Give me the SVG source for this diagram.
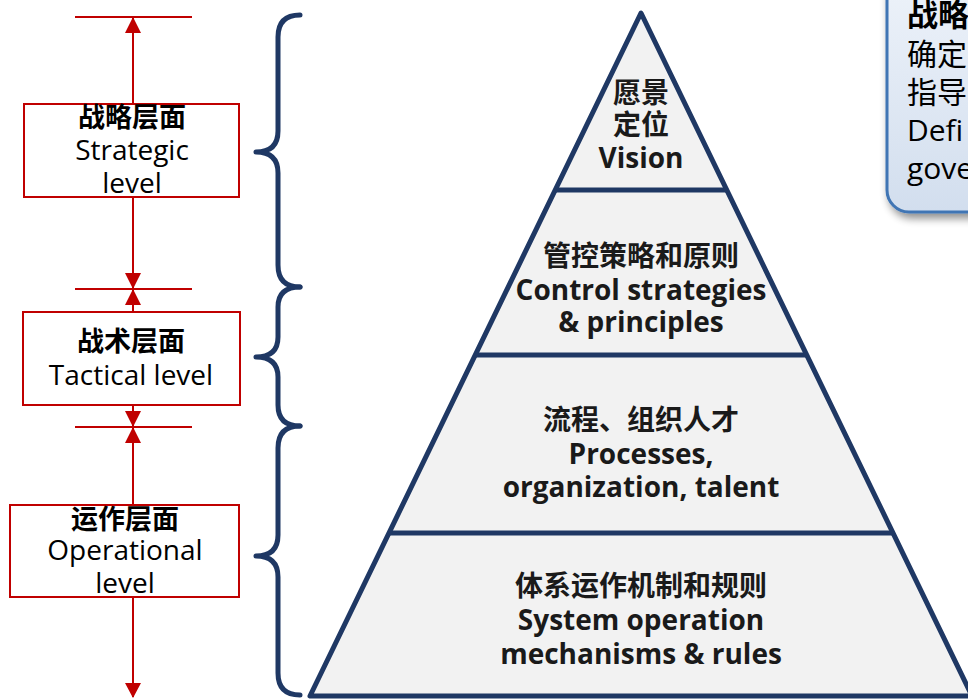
<svg xmlns="http://www.w3.org/2000/svg" width="968" height="699" viewBox="0 0 968 699">
<defs>
<style>
.red{stroke:#c00000;stroke-width:2;fill:none}
.box{stroke:#c00000;stroke-width:2;fill:#ffffff}
.arr{fill:#c00000;stroke:none}
.brace{stroke:#1f3864;stroke-width:5;fill:none;stroke-linecap:round;stroke-linejoin:round}
.pyr{stroke:#1f3864;stroke-width:5;fill:#f2f2f2;stroke-linejoin:round}
.div{stroke:#1f3864;stroke-width:5}
.pt{font-family:"Open Sans","Noto Sans CJK SC",sans-serif;font-weight:bold;font-size:28px;fill:#1a1a1a;text-anchor:middle}
.lb{font-family:"Noto Sans CJK SC",sans-serif;font-weight:bold;font-size:27px;fill:#000;text-anchor:middle}
.lt{font-family:"Open Sans","Noto Sans CJK SC",sans-serif;font-size:28px;fill:#000;text-anchor:middle}
.cb{font-family:"Noto Sans CJK SC",sans-serif;font-weight:bold;font-size:31px;fill:#000}
.ct{font-family:"Open Sans","Noto Sans CJK SC",sans-serif;font-size:30px;fill:#000}
</style>
<linearGradient id="cg" x1="0" y1="0" x2="0" y2="1">
<stop offset="0" stop-color="#eef3fa"/>
<stop offset="1" stop-color="#d2deee"/>
</linearGradient>
<filter id="sh" x="-20%" y="-20%" width="140%" height="140%">
<feGaussianBlur in="SourceAlpha" stdDeviation="4"/>
<feOffset dx="3" dy="5" result="b"/>
<feComponentTransfer><feFuncA type="linear" slope="0.45"/></feComponentTransfer>
<feMerge><feMergeNode/><feMergeNode in="SourceGraphic"/></feMerge>
</filter>
</defs>
<rect width="968" height="699" fill="#ffffff"/>

<g id="connectors">
<line class="red" x1="133" y1="17" x2="133" y2="697"/>
<line class="red" x1="75" y1="17" x2="192" y2="17"/>
<line class="red" x1="75" y1="289" x2="192" y2="289"/>
<line class="red" x1="75" y1="427" x2="192" y2="427"/>
<polygon class="arr" points="133,17 125,33 141,33"/>
<polygon class="arr" points="133,289 125,273 141,273"/>
<polygon class="arr" points="133,289 125,305 141,305"/>
<polygon class="arr" points="133,427 125,411 141,411"/>
<polygon class="arr" points="133,427 125,443 141,443"/>
<polygon class="arr" points="133,698 125,683 141,683"/>
<path class="brace" d="M300,15 Q278,15 278,37 L278,131 Q278,152 256,152 Q278,152 278,173 L278,265 Q278,287 300,287"/>
<path class="brace" d="M300,287 Q278,287 278,307 L278,337 Q278,357 256,357 Q278,357 278,377 L278,405 Q278,426 300,426"/>
<path class="brace" d="M300,426 Q278,426 278,448 L278,535 Q278,556 256,556 Q278,556 278,577 L278,673 Q278,695 300,695"/>
</g>

<g id="strategic-level">
<rect class="box" x="24" y="104" width="215" height="93"/>
<text class="lb" x="132" y="127">战略层面</text>
<text class="lt" x="132" y="160">Strategic</text>
<text class="lt" x="132" y="193">level</text>
</g>
<g id="tactical-level">
<rect class="box" x="23" y="312" width="217" height="93"/>
<text class="lb" x="131" y="351">战术层面</text>
<text class="lt" x="131" y="385">Tactical level</text>
</g>
<g id="operational-level">
<rect class="box" x="10" y="505" width="229" height="92"/>
<text class="lb" x="125" y="529">运作层面</text>
<text class="lt" x="125" y="560">Operational</text>
<text class="lt" x="125" y="593">level</text>
</g>

<g id="pyramid">
<polygon class="pyr" points="641,13 310,696 972,696"/>
<line class="div" x1="555" y1="190" x2="727" y2="190"/>
<line class="div" x1="475" y1="355" x2="807" y2="355"/>
<line class="div" x1="390" y1="533" x2="892" y2="533"/>
</g>
<g id="layer-vision">
<text class="pt" x="641" y="103">愿景</text>
<text class="pt" x="641" y="135">定位</text>
<text class="pt" x="641" y="168">Vision</text>
</g>
<g id="layer-control">
<text class="pt" x="641" y="266">管控策略和原则</text>
<text class="pt" x="641" y="300">Control strategies</text>
<text class="pt" x="641" y="332">&amp; principles</text>
</g>
<g id="layer-process">
<text class="pt" x="641" y="430">流程、组织人才</text>
<text class="pt" x="641" y="464">Processes,</text>
<text class="pt" x="641" y="497">organization, talent</text>
</g>
<g id="layer-system">
<text class="pt" x="641" y="596">体系运作机制和规则</text>
<text class="pt" x="641" y="630">System operation</text>
<text class="pt" x="641" y="664">mechanisms &amp; rules</text>
</g>

<g id="callout">
<rect x="887" y="-30" width="140" height="242" rx="22" fill="url(#cg)" stroke="#3f75b4" stroke-width="3" filter="url(#sh)"/>
<text class="cb" x="907" y="26">战略</text>
<text class="ct" x="907" y="65">确定</text>
<text class="ct" x="907" y="103">指导</text>
<text class="ct" x="907" y="141">Defi</text>
<text class="ct" x="907" y="179">gove</text>
</g>
</svg>
